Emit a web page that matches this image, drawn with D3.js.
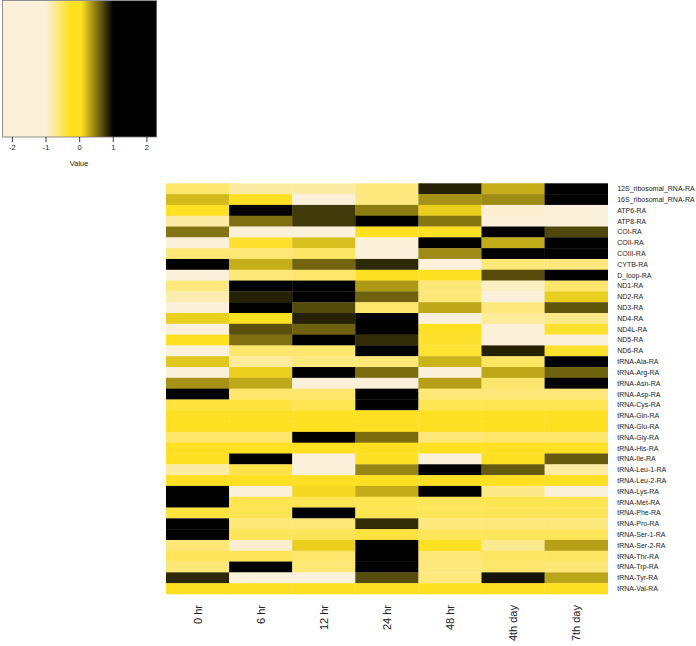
<!DOCTYPE html>
<html>
<head>
<meta charset="utf-8">
<script src="https://cdn.jsdelivr.net/npm/d3@7"></script>
<style>
  html, body { margin: 0; padding: 0; background: #fff; }
  text { font-family: "Liberation Sans", Arial, sans-serif; }
</style>
</head>
<body>
<svg id="chart" width="696" height="646"></svg>
<script>
// ---- data ----
const columns = ["0 hr", "6 hr", "12 hr", "24 hr", "48 hr", "4th day", "7th day"];
const genes = [
  "12S_ribosomal_RNA-RA", "16S_ribosomal_RNA-RA", "ATP6-RA", "ATP8-RA", "COI-RA", "COII-RA",
  "COIII-RA", "CYTB-RA", "D_loop-RA", "ND1-RA", "ND2-RA", "ND3-RA", "ND4-RA", "ND4L-RA",
  "ND5-RA", "ND6-RA", "tRNA-Ala-RA", "tRNA-Arg-RA", "tRNA-Asn-RA", "tRNA-Asp-RA",
  "tRNA-Cys-RA", "tRNA-Gln-RA", "tRNA-Glu-RA", "tRNA-Gly-RA", "tRNA-His-RA", "tRNA-Ile-RA",
  "tRNA-Leu-1-RA", "tRNA-Leu-2-RA", "tRNA-Lys-RA", "tRNA-Met-RA", "tRNA-Phe-RA",
  "tRNA-Pro-RA", "tRNA-Ser-1-RA", "tRNA-Ser-2-RA", "tRNA-Thr-RA", "tRNA-Trp-RA",
  "tRNA-Tyr-RA", "tRNA-Val-RA"
];
// row-scaled values (z-scores), one array per gene, in column order
const values = [
  [-0.58, -0.79, -0.79, -0.65, 0.86, 0.26, 1.9],
  [0.21, 0.0, -1.2, -0.65, 0.38, 0.41, 1.7],
  [0.0, 1.6, 0.76, 0.48, 0.12, -0.96, -1.1],
  [-0.79, 0.53, 0.76, 1.4, 0.50, -1.1, -1.0],
  [0.51, -1.1, -1.0, 0.0, 0.0, 1.8, 0.70],
  [-1.05, -0.34, 0.19, -1.2, 1.6, 0.27, 1.5],
  [-0.62, -0.62, -0.55, -1.2, 0.41, 1.0, 1.7],
  [1.8, 0.26, 0.57, 0.83, -1.1, -0.62, -0.65],
  [-1.1, -0.62, -0.58, 0.0, 0.0, 0.68, 2.0],
  [-0.65, 1.6, 1.5, 0.35, -0.62, -0.90, -0.58],
  [-0.83, 0.86, 1.7, 0.59, -0.62, -1.1, 0.12],
  [-1.1, 1.0, 0.69, -0.58, 0.29, -0.65, 0.64],
  [0.12, 0.0, 0.86, 1.6, -1.1, -0.76, -0.69],
  [-1.1, 0.66, 0.59, 1.9, 0.0, -1.1, -0.34],
  [0.0, 0.53, 1.5, 0.81, -0.34, -1.1, -1.1],
  [-1.1, -0.58, -0.58, 1.7, -0.37, 0.86, -0.34],
  [0.16, -0.76, -0.65, -0.62, 0.24, -0.55, 1.6],
  [-1.1, 0.12, 1.8, 0.54, -1.1, 0.29, 0.58],
  [0.38, 0.29, -1.1, -1.05, 0.32, -0.58, 1.5],
  [2.1, -0.58, -0.58, 1.9, -0.62, -0.62, -0.62],
  [-0.41, -0.41, -0.48, 2.2, -0.48, -0.48, -0.48],
  [0.0, -0.05, 0.02, 0.0, -0.02, 0.01, 0.0],
  [0.0, 0.02, -0.03, 0.01, 0.0, -0.02, 0.01],
  [-0.58, -0.58, 1.9, 0.54, -0.62, -0.58, -0.58],
  [0.0, -0.02, 0.0, 0.01, -0.03, 0.0, 0.02],
  [0.0, 1.7, -1.05, 0.0, -1.05, 0.0, 0.62],
  [-0.79, -0.44, -1.1, 0.43, 1.6, 0.62, -0.79],
  [0.01, 0.0, -0.02, 0.0, 0.02, -0.01, 0.0],
  [1.9, -1.05, 0.09, 0.27, 1.7, -0.69, -1.0],
  [2.0, -0.48, -0.48, -0.48, -0.51, -0.48, -0.48],
  [-0.41, -0.48, 2.1, -0.48, -0.51, -0.51, -0.51],
  [2.1, -0.62, -0.62, 0.81, -0.65, -0.65, -0.65],
  [2.2, -0.51, -0.51, -0.41, -0.51, -0.51, -0.51],
  [-0.62, -0.96, 0.12, 1.8, 0.0, -0.72, 0.32],
  [-0.51, -0.51, -0.58, 2.2, -0.62, -0.55, -0.55],
  [-0.62, 1.9, -0.62, 1.9, -0.65, -0.58, -0.62],
  [0.83, -1.05, -1.05, 0.67, -0.65, 0.92, 0.30],
  [0.0, 0.01, 0.0, -0.02, 0.0, 0.01, -0.01]
];
const keyTicks = [-2, -1, 0, 1, 2];
const keyRange = [-2.28, 2.3];

// ---- drawing ----
const svg = d3.select("#chart");
const color = d3.scaleLinear()
  .domain([-1, -0.3, 0.05, 1])
  .range(["#FBF0DA", "#FEE022", "#FEE022", "#000000"])
  .clamp(true);

const hm = { left: 166, right: 607.7, top: 183.3, bottom: 594 };
const x = d3.scaleBand().domain(columns).range([hm.left, hm.right]).padding(0);
const y = d3.scaleBand().domain(genes).range([hm.top, hm.bottom]).padding(0);

const cells = [];
genes.forEach((g, i) => columns.forEach((c, j) => cells.push({ g, c, v: values[i][j] })));

svg.append("g").selectAll("rect").data(cells).join("rect")
  .attr("x", d => x(d.c))
  .attr("y", d => y(d.g))
  .attr("width", x.bandwidth() + 0.3)
  .attr("height", y.bandwidth() + 0.3)
  .attr("fill", d => color(d.v));

// row labels
svg.append("g").selectAll("text").data(genes).join("text")
  .attr("x", hm.right + 9.5)
  .attr("y", d => y(d) + y.bandwidth() / 2)
  .attr("dy", "0.35em")
  .attr("font-size", 7)
  .attr("fill", "#222")
  .text(d => d);

// column labels (rotated)
svg.append("g").selectAll("text").data(columns).join("text")
  .attr("transform", d => `translate(${x(d) + x.bandwidth() / 2 + 4},605) rotate(-90)`)
  .attr("text-anchor", "end")
  .attr("font-size", 11)
  .attr("fill", "#222")
  .text(d => d);

// ---- color key ----
const key = { left: 2.5, right: 156.5, top: 0.5, bottom: 137 };
const kx = d3.scaleLinear().domain(keyRange).range([key.left, key.right]);
const nSteps = 154;
const steps = d3.range(nSteps).map(i => keyRange[0] + (keyRange[1] - keyRange[0]) * i / nSteps);
const stepW = (keyRange[1] - keyRange[0]) / nSteps;
const stepPx = kx(keyRange[0] + stepW) - kx(keyRange[0]);
const kg = svg.append("g");
kg.append("g").attr("shape-rendering", "crispEdges")
  .selectAll("rect").data(steps).join("rect")
  .attr("x", d => kx(d))
  .attr("y", key.top)
  .attr("width", stepPx + 0.8)
  .attr("height", key.bottom - key.top)
  .attr("fill", d => color(d + stepW / 2));
kg.append("rect")
  .attr("x", key.left).attr("y", key.top)
  .attr("width", key.right - key.left).attr("height", key.bottom - key.top)
  .attr("fill", "none").attr("stroke", "#777").attr("stroke-width", 0.8);

const axis = d3.axisBottom(kx).tickValues(keyTicks).tickSize(5).tickPadding(3)
  .tickFormat(d3.format("d"));
const ag = kg.append("g").attr("transform", `translate(0,${key.bottom})`).call(axis);
ag.select(".domain").remove();
ag.selectAll(".tick line").attr("stroke", "#333");
ag.selectAll(".tick text").attr("font-size", 7.5).attr("fill", "#222")
  .attr("font-family", "Liberation Sans, Arial, sans-serif")
  .text(d => d < 0 ? "-" + Math.abs(d) : d);
kg.append("text")
  .attr("x", kx(0)).attr("y", 166)
  .attr("text-anchor", "middle")
  .attr("font-size", 7.5).attr("fill", "#222")
  .text("Value");
</script>
</body>
</html>
